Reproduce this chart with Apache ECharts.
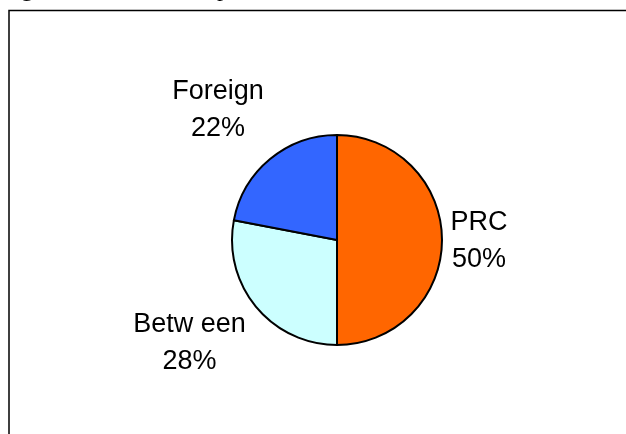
<!DOCTYPE html>
<html>
<head>
<meta charset="utf-8">
<script src="https://cdn.jsdelivr.net/npm/echarts@6/dist/echarts.min.js"></script>
<style>html,body{margin:0;padding:0;background:#fff}#c{width:626px;height:434px}</style>
</head>
<body>
<div id="c"></div>
<script>
const categories = ['PRC', 'Betw een', 'Foreign'];
const values = [50, 28, 22];
const colors = ['#FF6600', '#CCFFFF', '#3366FF'];
const labelSpots = [[479, 241], [189.5, 343], [218, 110]];

const chart = echarts.init(document.getElementById('c'), null, {renderer: 'canvas'});
chart.setOption({
  animation: false,
  backgroundColor: '#ffffff',
  graphic: [
    {type: 'rect', shape: {x: 9, y: 10.5, width: 700, height: 600},
     style: {fill: 'none', stroke: '#000', lineWidth: 1.5}, z: 0},
    {type: 'text', x: 21, y: -22, style: {text: 'g', font: '24px "Liberation Serif"', fill: '#000'}},
    {type: 'text', x: 217, y: -22, style: {text: 'p', font: '24px "Liberation Serif"', fill: '#000'}}
  ],
  series: [{
    type: 'pie',
    center: [337, 240],
    radius: 105,
    startAngle: 90,
    clockwise: true,
    data: categories.map((n, i) => ({name: n, value: values[i], itemStyle: {color: colors[i]}})),
    itemStyle: {borderColor: '#000', borderWidth: 2},
    label: {
      show: true,
      position: 'outside',
      formatter: p => p.name + '\n' + p.value + '%',
      fontFamily: 'Liberation Sans',
      fontSize: 27,
      lineHeight: 37,
      color: '#000',
      align: 'center'
    },
    labelLine: {show: false},
    labelLayout: params => ({
      x: labelSpots[params.dataIndex][0],
      y: labelSpots[params.dataIndex][1],
      align: 'center',
      verticalAlign: 'middle'
    }),
    emphasis: {disabled: true}
  }]
});
</script>
</body>
</html>
